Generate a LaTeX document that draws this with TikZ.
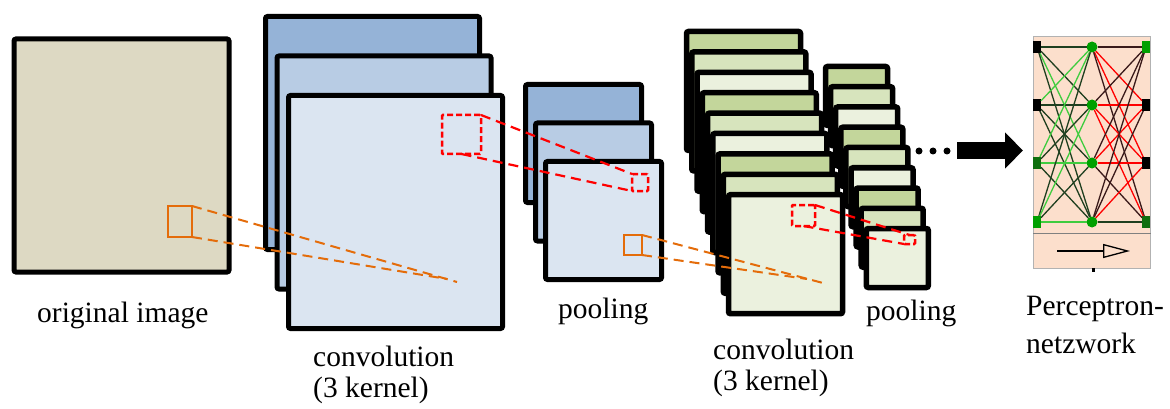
\documentclass[tikz,border=0pt]{standalone}
\usepackage{fontspec}
\setmainfont{Liberation Serif}
\usetikzlibrary{arrows.meta}
\definecolor{tan}{HTML}{DDD9C3}
\definecolor{bluA}{HTML}{95B3D7}
\definecolor{bluB}{HTML}{B8CCE4}
\definecolor{bluC}{HTML}{DBE5F1}
\definecolor{grnA}{HTML}{C3D69B}
\definecolor{grnB}{HTML}{D7E4BD}
\definecolor{grnC}{HTML}{EBF1DE}
\definecolor{orng}{HTML}{E46C0A}
\definecolor{peach}{HTML}{FCDFCC}
\definecolor{nrng}{HTML}{00A000}
\definecolor{lgrn}{HTML}{3FCC3F}
\definecolor{dgrn}{HTML}{1F3F1F}
\definecolor{mgrn}{HTML}{0F6F0F}
\definecolor{dred}{HTML}{3A1A1A}
\newcommand{\fLab}{\fontsize{29.5}{31}\selectfont}

\begin{document}
\begin{tikzpicture}[x=1pt,y=-1pt,
  layer/.style={draw=black,line width=5pt,rounded corners=2pt,anchor=north west,inner sep=0pt,outer sep=0pt},
  win/.style={line width=2pt,inner sep=0pt,outer sep=0pt},
  rwin/.style={win,draw=red,line width=2.5pt,rounded corners=1pt,dash pattern=on 6pt off 3pt},
  link/.style={line width=2pt,dash pattern=on 10pt off 6pt},
  lab/.style={anchor=base west,inner sep=0pt,font=\fLab,align=left},
  wire/.style={line width=1.3pt},
  insq/.style={inner sep=0pt,outer sep=0pt,minimum width=8pt,minimum height=12pt},
  nrn/.style={circle,fill=nrng,inner sep=0pt,outer sep=0pt,minimum size=11pt}]
  \useasboundingbox (0,0) rectangle (1170,409);

  % input picture
  \node[layer,fill=tan,minimum width=215pt,minimum height=233pt] (img) at (14,39) {};

  % first convolution and pooling
  \foreach \i/\c in {0/bluA,1/bluB,2/bluC}
    \node[layer,fill=\c,minimum width=214pt,minimum height=233pt] (cv\i) at (265.5+11.5*\i,16.5+39.5*\i) {};
  \foreach \i/\c in {0/bluA,1/bluB,2/bluC}
    \node[layer,fill=\c,minimum width=116pt,minimum height=118pt] (pv\i) at (525.5+10*\i,84.5+38.5*\i) {};

  % second convolution and pooling
  \foreach \i/\c in {0/grnA,1/grnB,2/grnC,3/grnA,4/grnB,5/grnC,6/grnA,7/grnB,8/grnC}
    \node[layer,line width=5.5pt,fill=\c,minimum width=114pt,minimum height=119pt] (cw\i) at (686.5+5.25*\i,31.5+20.4*\i) {};
  \foreach \i/\c in {0/grnA,1/grnB,2/grnC,3/grnA,4/grnB,5/grnC,6/grnA,7/grnB,8/grnC}
    \node[layer,line width=5.5pt,fill=\c,minimum width=62pt,minimum height=59pt] (pw\i) at (825.5+5.1*\i,66.5+20.25*\i) {};

  % receptive fields
  \node[win,draw=orng,minimum width=24pt,minimum height=31pt] (ow1) at (180,221.5) {};
  \node[win,draw=orng,minimum width=18pt,minimum height=20pt] (ow2) at (633,245) {};
  \node[rwin,minimum width=39pt,minimum height=39pt] (rw1) at (461.5,134.5) {};
  \node[rwin,minimum width=16pt,minimum height=17pt] (rw1s) at (640,182.5) {};
  \node[rwin,minimum width=23pt,minimum height=21pt] (rw2) at (803.5,215.5) {};
  \node[rwin,minimum width=11pt,minimum height=9pt] (rw2s) at (909.5,239.5) {};
  \coordinate (t1) at (457,282);
  \coordinate (t2) at (447,279);
  \coordinate (t3) at (823,283);
  \coordinate (t4) at (807,279);

  \draw[link,orng] (ow1.north east) -- (t1);
  \draw[link,orng] (ow1.south east) -- (t2);
  \draw[link,orng] (ow2.north east) -- (t3);
  \draw[link,orng] (ow2.south east) -- (t4);
  \draw[link,red,line width=2.2pt] (rw1.north east) -- (rw1s.north west);
  \draw[link,red,line width=2.2pt] (rw1.south) -- (rw1s.south west);
  \draw[link,red,line width=2.2pt] (rw2.north east) -- (rw2s.north);
  \draw[link,red,line width=2.2pt] (rw2.south) -- (rw2s.south west);

  % more layers
  \foreach \x in {919,933,947}
    \fill (\x,151) circle (3.5pt);

  % fully connected part
  \node[draw=gray!60,fill=peach,line width=1pt,anchor=north west,inner sep=0pt,minimum width=117pt,minimum height=232pt] (net) at (1033,36) {};
  \coordinate (sep) at (1090,233);
  \draw[gray,line width=1pt] (net.west |- sep) -- (net.east |- sep);
  \coordinate (oa) at (1057,251);
  \coordinate (ob) at (1130,251);
  \draw[line width=1.3pt,-{Triangle[open,length=27pt,width=14pt]}] (oa) -- (ob);
  \fill (1091.5,268) rectangle (1094.5,272);

  \coordinate (a0) at (957,150.5);
  \draw[line width=17pt,-{Triangle[length=18pt,width=35pt]},shorten >=10pt] (a0) -- (a0 -| net.west);

  \foreach \i/\y/\c in {1/47/black,2/105/black,3/163/mgrn,4/222/nrng}
    \node[insq,fill=\c] (l\i) at (1037,\y) {};
  \foreach \i/\y in {1/47,2/105,3/163,4/222}
    \node[nrn] (m\i) at (1092,\y) {};
  \foreach \i/\y/\c in {1/47/nrng,2/105/black,3/163/black,4/222/mgrn}
    \node[insq,fill=\c] (r\i) at (1146,\y) {};

  \foreach \i/\j/\c in {1/1/dgrn,1/2/dgrn,1/3/lgrn,1/4/dgrn,2/1/lgrn,2/2/dgrn,2/3/dgrn,2/4/dgrn,
      3/1/lgrn,3/2/dgrn,3/3/lgrn,3/4/dgrn,4/1/dgrn,4/2/lgrn,4/3/dgrn,4/4/lgrn}
    \draw[wire,\c] (l\i) -- (m\j);
  \foreach \i/\j/\c in {1/1/dred,1/2/red,1/3/red,1/4/dred,2/1/dred,2/2/red,2/3/red,2/4/red,
      3/1/dred,3/2/red,3/3/red,3/4/dred,4/1/dred,4/2/dred,4/3/red,4/4/dgrn}
    \draw[wire,\c] (m\i) -- (r\j);

  % captions (base = last line)
  \node[lab] (limg) at (37,322) {original image};
  \node[lab] (lcv) at (313,397) {convolution\\(3 kernel)};
  \node[lab] (lpv) at (558,318) {pooling};
  \node[lab] (lcw) at (713,390) {convolution\\(3 kernel)};
  \node[lab] (lpw) at (866,320) {pooling};
  \node[lab] (lnet) at (1026,353) {Perceptron-\\[7pt]netzwork};
\end{tikzpicture}
\end{document}
